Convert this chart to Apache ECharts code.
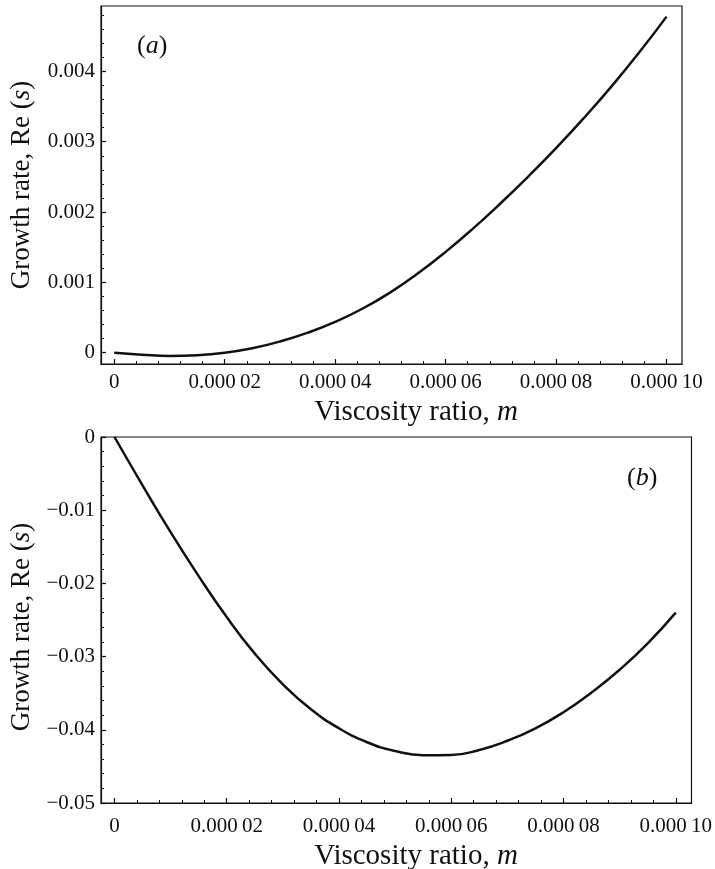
<!DOCTYPE html>
<html>
<head>
<meta charset="utf-8">
<script src="https://cdn.jsdelivr.net/npm/echarts@6/dist/echarts.min.js"></script>
<style>
html,body{margin:0;padding:0;background:#fff;}
#chart{width:715px;height:869px;}
</style>
</head>
<body>
<div id="chart"></div>
<script>
// Viscosity ratio m (shared by both panels)
const mValues = [0, 0.000005, 0.00001, 0.000015, 0.00002, 0.000025, 0.00003, 0.000035, 0.00004, 0.000045,
  0.00005, 0.000055, 0.00006, 0.000065, 0.00007, 0.000075, 0.00008, 0.000085, 0.00009, 0.000095, 0.0001];
// Panel (a): growth rate Re(s)
const growthA = [0, -0.000028, -0.000046, -0.000036, -0.000001, 0.000064, 0.000159, 0.000284, 0.000439, 0.000629,
  0.000859, 0.001129, 0.001434, 0.001769, 0.002129, 0.002509, 0.002909, 0.003334, 0.003784, 0.004264, 0.004779];
// Panel (b): growth rate Re(s)
const growthB = [0, -0.0066, -0.0130, -0.0190, -0.0246, -0.0296, -0.0338, -0.0372, -0.0398, -0.0417,
  -0.0429, -0.04348, -0.04344, -0.04276, -0.0415, -0.0398, -0.0376, -0.0349, -0.0318, -0.0282, -0.0240];

// Tick values
const xMajorTicks = [0, 0.00002, 0.00004, 0.00006, 0.00008, 0.0001];
const xMinorTicks = [0.000004,0.000008,0.000012,0.000016,0.000024,0.000028,0.000032,0.000036,0.000044,0.000048,0.000052,0.000056,
  0.000064,0.000068,0.000072,0.000076,0.000084,0.000088,0.000092,0.000096];
const yMajorTicksA = [0, 0.001, 0.002, 0.003, 0.004];
const yMinorTicksA = [0.0002,0.0004,0.0006,0.0008,0.0012,0.0014,0.0016,0.0018,0.0022,0.0024,0.0026,0.0028,
  0.0032,0.0034,0.0036,0.0038,0.0042,0.0044,0.0046,0.0048];
const yMajorTicksB = [0, -0.01, -0.02, -0.03, -0.04, -0.05];
const yMinorTicksB = [-0.002,-0.004,-0.006,-0.008,-0.012,-0.014,-0.016,-0.018,-0.022,-0.024,-0.026,-0.028,
  -0.032,-0.034,-0.036,-0.038,-0.042,-0.044,-0.046,-0.048];

const FONT = '"Liberation Serif", "Times New Roman", serif';
const X_MIN = -0.0000024, X_MAX = 0.0001028;

function fmtX(v){
  if (Math.abs(v) < 1e-12) return '0';
  const s = v.toFixed(5);
  return s.slice(0,5) + '\u2009' + s.slice(5);
}
function fmtYA(v){ return Math.abs(v) < 1e-12 ? '0' : v.toFixed(3); }
function fmtYB(v){ return Math.abs(v) < 1e-12 ? '0' : '\u2212' + Math.abs(v).toFixed(2); }

const black = '#111';

function majorX(grid, labelMargin){
  return {
    type: 'value', gridIndex: grid, min: X_MIN, max: X_MAX, position: 'bottom',
    axisLine: {show: true, onZero: false, lineStyle: {color: black, width: 1.2}},
    axisTick: {show: true, inside: true, length: 5, customValues: xMajorTicks, lineStyle: {color: black, width: 1.2}},
    axisLabel: {show: true, customValues: xMajorTicks, formatter: fmtX, margin: labelMargin,
      fontFamily: FONT, fontSize: 21, color: black},
    splitLine: {show: false}
  };
}
function minorX(grid){
  return {
    type: 'value', gridIndex: grid, min: X_MIN, max: X_MAX, position: 'bottom',
    axisLine: {show: false, onZero: false},
    axisTick: {show: true, inside: true, length: 3, customValues: xMinorTicks, lineStyle: {color: black, width: 1}},
    axisLabel: {show: false}, splitLine: {show: false}
  };
}
function majorY(grid, min, max, ticks, fmt){
  return {
    type: 'value', gridIndex: grid, min: min, max: max, position: 'left',
    axisLine: {show: true, onZero: false, lineStyle: {color: black, width: 1.2}},
    axisTick: {show: true, inside: true, length: 5, customValues: ticks, lineStyle: {color: black, width: 1.2}},
    axisLabel: {show: true, customValues: ticks, formatter: fmt, margin: 6,
      fontFamily: FONT, fontSize: 21, color: black},
    splitLine: {show: false}
  };
}
function minorY(grid, min, max, ticks){
  return {
    type: 'value', gridIndex: grid, min: min, max: max, position: 'left',
    axisLine: {show: false, onZero: false},
    axisTick: {show: true, inside: true, length: 3, customValues: ticks, lineStyle: {color: black, width: 1}},
    axisLabel: {show: false}, splitLine: {show: false}
  };
}

function titleRich(size){
  return {
    n: {fontFamily: FONT, fontSize: size, fill: black},
    i: {fontFamily: FONT, fontSize: size, fill: black, fontStyle: 'italic'}
  };
}
function xTitle(cx, cy){
  return {type: 'text', x: cx, y: cy, style: {text: '{n|Viscosity ratio, }{i|m}', rich: titleRich(29),
    align: 'center', verticalAlign: 'middle'}};
}
function yTitle(cx, cy){
  return {type: 'text', x: cx, y: cy, rotation: Math.PI / 2, style: {text: '{n|Growth rate, Re (}{i|s}{n|)}',
    rich: titleRich(27), align: 'center', verticalAlign: 'middle'}};
}
function panelLabel(letter, x, y){
  return {type: 'text', left: x, top: y, style: {text: '{p|(}{i|' + letter + '}{p|)}', rich: {
    p: {fontFamily: FONT, fontSize: 26, fill: black}, i: {fontFamily: FONT, fontSize: 26, fontStyle: 'italic', fill: black}}}};
}

const chart = echarts.init(document.getElementById('chart'), null, {renderer: 'canvas'});
const option = {
  animation: false,
  backgroundColor: '#fff',
  grid: [
    {left: 101, top: 6, width: 581, height: 358, show: true, borderColor: black, borderWidth: 1.2, backgroundColor: 'transparent'},
    {left: 101, top: 437, width: 593, height: 366, show: true, borderColor: black, borderWidth: 1.2, backgroundColor: 'transparent'}
  ],
  xAxis: [majorX(0, 8), minorX(0), majorX(1, 13), minorX(1)],
  yAxis: [
    majorY(0, -0.00016, 0.00493, yMajorTicksA, fmtYA), minorY(0, -0.00016, 0.00493, yMinorTicksA),
    majorY(1, -0.05, 0, yMajorTicksB, fmtYB), minorY(1, -0.05, 0, yMinorTicksB)
  ],
  graphic: [
    xTitle(416, 412), xTitle(416, 856),
    yTitle(22, 185), yTitle(22, 627),
    panelLabel('a', 137, 33), panelLabel('b', 627, 465)
  ],
  series: [
    {type: 'line', xAxisIndex: 0, yAxisIndex: 0, data: mValues.map((m, i) => [m, growthA[i]]),
      smooth: true, showSymbol: false, symbol: 'none', lineStyle: {color: black, width: 2.5}},
    {type: 'line', xAxisIndex: 2, yAxisIndex: 2, data: mValues.map((m, i) => [m, growthB[i]]),
      smooth: true, showSymbol: false, symbol: 'none', lineStyle: {color: black, width: 2.5}}
  ]
};
chart.setOption(option);
</script>
</body>
</html>
